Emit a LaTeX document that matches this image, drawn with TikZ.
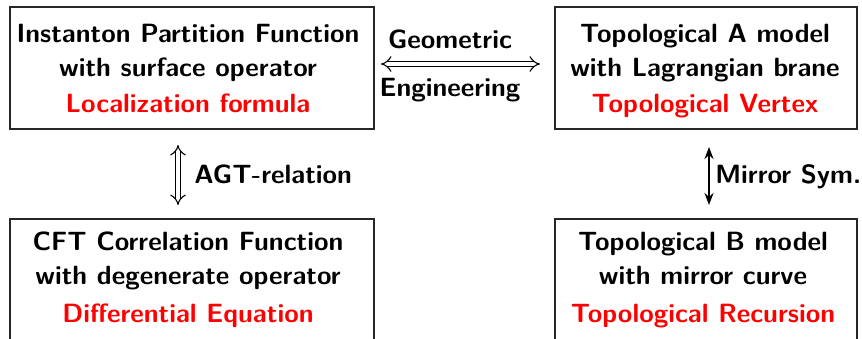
\documentclass[tikz,border=0pt]{standalone}
\usetikzlibrary{arrows.meta}
\begin{document}
\begin{tikzpicture}[x=0.5pt,y=-0.5pt,
  box/.style={draw=black!85, line width=0.8pt, minimum width=182pt, minimum height=61pt, inner sep=0pt},
  txt/.style={font=\sffamily\bfseries\fontsize{13.2}{15}\selectfont, anchor=base, inner sep=0pt},
  red/.style={txt, text=red},
  dblarrow/.style={double, double distance=2.2pt, line width=0.55pt, {Implies}-{Implies}},
  sglarrow/.style={line width=1pt, {Stealth[length=6pt,width=4.5pt]}-{Stealth[length=6pt,width=4.5pt]}}]
\useasboundingbox (0,0) rectangle (862,338);
% boxes
\node[box] (tl) at (192,68) {};
\node[box, minimum width=151pt] (tr) at (706,68) {};
\node[box] (bl) at (192,280) {};
\node[box, minimum width=151pt] (br) at (706,280) {};
% texts top-left
\node[txt] (tl1) at (188,42) {Instanton Partition Function};
\node[txt] (tl2) at (188,76) {with surface operator};
\node[red] (tl3) at (188,112) {Localization formula};
% top-right
\node[txt] (tr1) at (705,42) {Topological A model};
\node[txt] (tr2) at (705,76) {with Lagrangian brane};
\node[red] (tr3) at (705,112) {Topological Vertex};
% bottom-left
\node[txt] (bl1) at (188,250) {CFT Correlation Function};
\node[txt] (bl2) at (188,284) {with degenerate operator};
\node[red] (bl3) at (188,322) {Differential Equation};
% bottom-right
\node[txt] (br1) at (703,250) {Topological B model};
\node[txt] (br2) at (703,284) {with mirror curve};
\node[red] (br3) at (703,322) {Topological Recursion};
% geometric engineering
\coordinate (ga) at (381,64);
\coordinate (gb) at (540,64);
\draw[dblarrow] (ga) -- (gb);
\node[txt] (g1) at (450,48) {Geometric};
\node[txt] (g2) at (450,96) {Engineering};
% AGT
\coordinate (aa) at (178,145);
\coordinate (ab) at (178,205);
\draw[dblarrow] (aa) -- (ab);
\node[txt, anchor=base west] (agt) at (194,183) {AGT-relation};
% mirror
\coordinate (ma) at (709,147);
\coordinate (mb) at (709,205);
\draw[sglarrow] (ma) -- (mb);
\node[txt, anchor=base west] (mir) at (715,183) {Mirror Sym.};
\end{tikzpicture}
\end{document}
